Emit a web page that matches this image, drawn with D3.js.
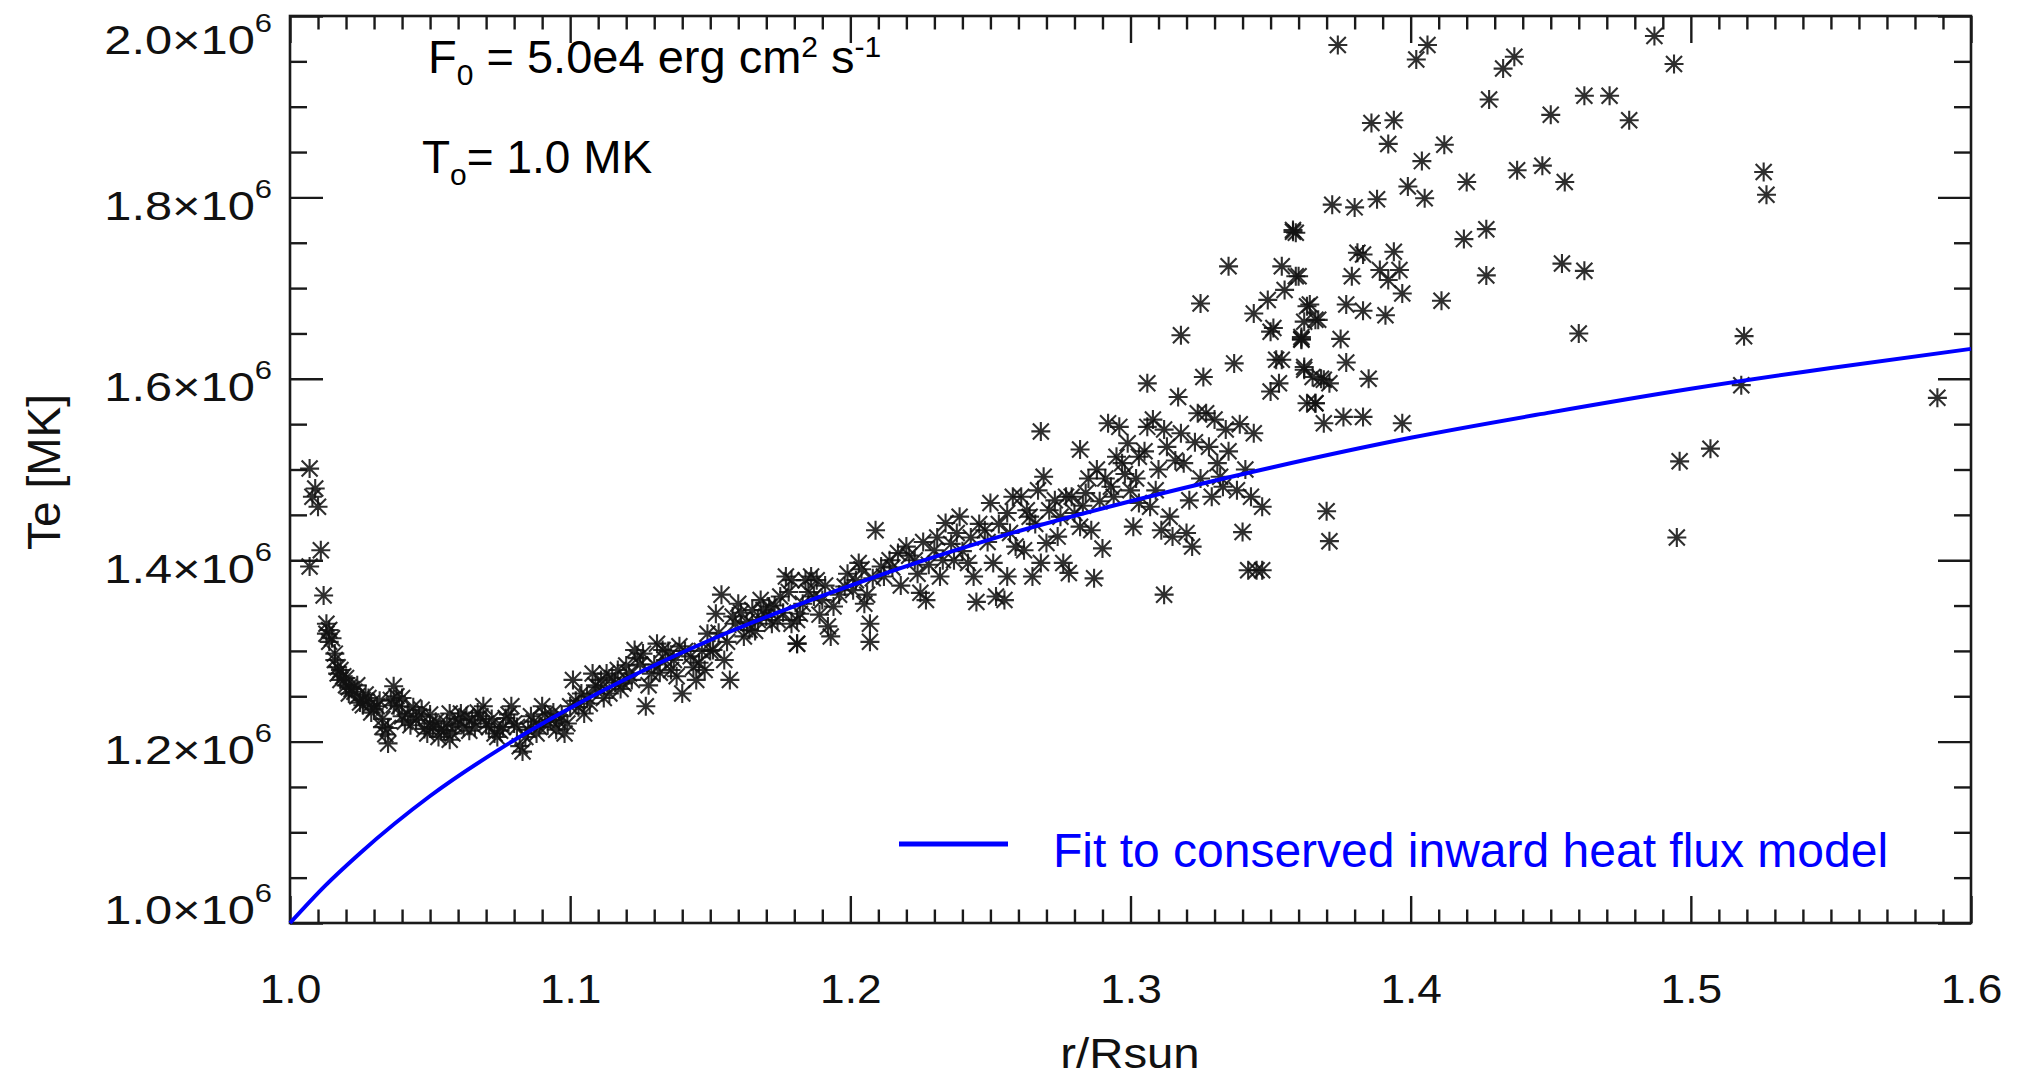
<!DOCTYPE html>
<html><head><meta charset="utf-8">
<script src="https://cdn.jsdelivr.net/npm/d3@7"></script>
<style>
html,body{margin:0;padding:0;background:#fff;}
svg{display:block;}
text{font-family:"Liberation Sans", Arial, Helvetica, sans-serif; white-space:pre;}
</style></head><body>
<svg id="chart" width="2020" height="1081"></svg>
<script>
// Observed electron temperature (units of 10^6 K) versus r/Rsun
const radius = [
1.007,1.009,1.008,1.010,1.011,1.007,1.012,1.013,1.014,1.015,1.016,1.017,1.018,1.019,1.020,1.021,1.022,1.024,1.025,1.026,
1.027,1.029,1.030,1.031,1.033,1.033,1.035,1.036,1.037,1.038,1.039,1.040,1.042,1.044,1.045,1.047,1.049,1.050,1.051,1.053,
1.054,1.056,1.057,1.058,1.060,1.061,1.062,1.064,1.065,1.067,1.069,1.070,1.071,1.073,1.074,1.076,1.077,1.079,1.080,1.081,
1.082,1.083,1.085,1.087,1.088,1.090,1.091,1.093,1.095,1.096,1.098,1.100,1.101,1.102,1.104,1.105,1.107,1.108,1.110,1.111,
1.113,1.114,1.116,1.117,1.119,1.121,1.123,1.125,1.126,1.127,1.129,1.131,1.133,1.134,1.136,1.138,1.139,1.140,1.143,1.145,
1.146,1.148,1.149,1.150,1.151,1.152,1.154,1.155,1.156,1.157,1.158,1.160,1.162,1.164,1.165,1.167,1.169,1.171,1.172,1.174,
1.175,1.177,1.179,1.181,1.182,1.184,
1.179,1.181,1.181,1.186,1.188,1.190,1.192,1.193,1.194,1.198,1.201,1.203,1.205,1.207,1.207,1.209,1.211,1.214,1.217,1.220,
1.223,1.225,1.227,1.230,1.232,1.234,1.237,1.239,1.242,1.244,1.245,1.248,1.250,1.251,1.252,1.255,1.256,1.256,1.258,1.261,
1.262,1.264,1.265,1.267,1.268,1.269,1.268,1.270,1.273,1.274,1.276,1.277,1.278,1.280,1.282,1.282,1.284,1.286,1.287,1.288,
1.290,1.292,1.293,1.295,1.296,1.297,1.299,1.300,1.301,1.303,1.303,1.306,1.306,1.307,1.308,1.309,1.311,1.312,1.312,1.314,
1.315,1.317,1.319,1.320,1.321,1.322,1.324,1.326,1.327,1.328,1.330,1.331,1.332,1.333,1.334,1.337,1.338,1.340,1.342,1.344,
1.345,1.347,1.347,1.350,1.352,1.353,1.362,1.361,1.318,1.350,1.363,
1.374,1.402,1.406,1.433,1.437,1.487,1.494,1.428,1.462,1.471,1.450,1.478,1.386,1.394,1.392,1.412,1.404,1.438,1.447,1.455,
1.399,1.405,1.420,1.388,1.372,1.380,1.358,1.359,1.526,1.527,1.419,1.427,1.381,1.383,1.394,1.389,1.396,1.392,1.397,1.360,
1.379,1.427,1.454,1.462,1.411,1.377,1.383,1.391,1.364,1.362,1.367,1.361,1.375,1.460,1.519,1.377,1.362,1.368,1.371,1.385,
1.366,1.369,1.376,1.383,1.397,1.518,1.496,1.507,1.370,1.371,1.495,1.588,1.325,1.335,1.344,1.349,1.351,1.354,1.355,1.358,
1.359,1.361,1.363,1.366,1.354,1.365,1.369,1.366,
1.013,1.014,1.016,1.017,1.018,1.020,1.021,1.023,1.024,1.026,1.028,1.029,1.032,1.034,1.035,1.037,1.040,1.041,1.043,1.046,
1.048,1.050,1.052,1.055,1.057,1.059,1.063,1.066,1.068,1.072,1.075,1.078,1.084,1.086,1.089,1.092,1.094,1.097,1.099,1.103,
1.106,1.109,1.112,1.115,1.118,1.120,1.122,1.124,1.128,1.130,1.132,1.135,1.137,1.141,1.144,1.147,1.153,1.159,1.161,1.163,
1.166,1.168,1.170,1.173,1.176,1.178,1.183,1.185,1.187,1.189,1.191,1.196,1.199,1.202,1.204,1.206,1.208,1.212,1.215,1.218,
1.221,1.224,1.226,1.228,1.231,1.233,1.236,1.238,1.240,1.243,1.246,1.249,1.253,1.257,1.259,1.263,1.266,1.271,1.275,1.279,
1.283,1.285,1.289,1.291,1.294,1.298,1.302,1.305,1.310,1.313,1.316,1.318,1.323,1.325,1.329,1.335,1.339,1.341,1.343
];
const temperature = [
1.501,1.479,1.470,1.459,1.411,1.393,1.361,1.319,1.323,1.314,1.297,1.275,1.279,1.272,1.262,1.253,1.258,1.250,1.243,1.246,
1.252,1.242,1.236,1.239,1.216,1.225,1.198,1.246,1.261,1.250,1.239,1.228,1.231,1.238,1.224,1.235,1.209,1.220,1.216,1.205,
1.213,1.220,1.231,1.209,1.225,1.231,1.216,1.212,1.224,1.232,1.239,1.220,1.216,1.209,1.205,1.216,1.226,1.239,1.220,1.216,
1.195,1.189,1.213,1.222,1.209,1.239,1.230,1.224,1.213,1.222,1.209,1.239,1.268,1.245,1.253,1.231,1.242,1.275,1.260,1.268,
1.275,1.253,1.265,1.279,1.264,1.275,1.301,1.285,1.297,1.239,1.275,1.308,1.301,1.290,1.279,1.272,1.305,1.253,1.294,1.268,
1.287,1.279,1.319,1.300,1.301,1.341,1.362,1.290,1.310,1.268,1.338,1.352,1.316,1.323,1.345,1.334,1.345,1.349,1.330,1.334,
1.360,1.382,1.330,1.308,1.341,1.378,
1.378,1.334,1.308,1.382,1.378,1.356,1.327,1.316,1.349,1.371,1.367,1.397,1.352,1.330,1.310,1.433,1.393,1.400,1.408,1.415,
1.400,1.364,1.356,1.411,1.382,1.441,1.400,1.448,1.397,1.382,1.354,1.433,1.463,1.397,1.360,1.356,1.452,1.382,1.470,1.470,
1.411,1.448,1.382,1.477,1.397,1.492,1.542,1.419,1.466,1.426,1.397,1.470,1.386,1.452,1.522,1.437,1.474,1.433,1.380,1.500,
1.413,1.551,1.481,1.514,1.547,1.507,1.529,1.477,1.437,1.514,1.463,1.595,1.547,1.459,1.555,1.477,1.433,1.544,1.362,1.448,
1.426,1.580,1.507,1.430,1.466,1.415,1.562,1.602,1.562,1.525,1.555,1.507,1.492,1.481,1.544,1.617,1.477,1.431,1.389,1.540,
1.389,1.459,1.389,1.586,1.621,1.595,1.613,1.646,1.648,1.652,1.573,
1.968,1.952,1.968,1.942,1.955,1.978,1.947,1.908,1.912,1.912,1.891,1.885,1.882,1.885,1.859,1.858,1.840,1.830,1.835,1.817,
1.812,1.799,1.817,1.798,1.792,1.789,1.762,1.761,1.828,1.803,1.754,1.765,1.739,1.737,1.740,1.720,1.720,1.709,1.694,1.713,
1.713,1.714,1.727,1.719,1.686,1.682,1.675,1.670,1.682,1.663,1.665,1.644,1.644,1.650,1.647,1.618,1.610,1.600,1.595,1.600,
1.573,1.551,1.558,1.558,1.551,1.593,1.509,1.523,1.454,1.421,1.425,1.579,1.683,1.724,1.672,1.687,1.656,1.724,1.698,1.764,
1.713,1.643,1.680,1.665,1.621,1.602,1.599,1.573,
1.330,1.310,1.290,1.282,1.268,1.270,1.260,1.255,1.262,1.240,1.248,1.232,1.245,1.208,1.215,1.240,1.248,1.222,1.218,1.228,
1.214,1.230,1.222,1.212,1.202,1.218,1.228,1.216,1.228,1.225,1.212,1.230,1.205,1.228,1.216,1.218,1.232,1.228,1.220,1.238,
1.250,1.262,1.248,1.270,1.258,1.284,1.268,1.292,1.262,1.285,1.276,1.300,1.290,1.300,1.282,1.300,1.320,1.330,1.342,1.332,
1.322,1.356,1.338,1.350,1.342,1.365,1.352,1.365,1.360,1.340,1.372,1.362,1.385,1.378,1.390,1.362,1.380,1.382,1.392,1.372,
1.405,1.385,1.420,1.395,1.425,1.400,1.418,1.430,1.410,1.425,1.440,1.420,1.440,1.430,1.415,1.455,1.440,1.455,1.448,1.470,
1.460,1.490,1.465,1.490,1.470,1.495,1.490,1.520,1.500,1.525,1.510,1.540,1.530,1.490,1.470,1.520,1.550,1.500,1.470
];
// Fit curve
const fitRadius = [1.000,1.0125,1.025,1.050,1.075,1.100,1.150,1.200,1.250,1.300,1.350,1.400,1.450,1.500,1.550,1.600];
const fitTemperature = [1.000,1.041,1.077,1.140,1.192,1.237,1.312,1.372,1.423,1.465,1.502,1.535,1.563,1.589,1.612,1.633];
const xMajorTicks = [1.0,1.1,1.2,1.3,1.4,1.5,1.6];
const yMajorTicks = [1.0,1.2,1.4,1.6,1.8,2.0];
const yTickMantissa = ["1.0","1.2","1.4","1.6","1.8","2.0"];
const legendLabel = "Fit to conserved inward heat flux model";

const svg = d3.select("#chart");
const L = 290, R = 1971, T = 16, B = 923;
const x = d3.scaleLinear().domain([1.0, 1.6]).range([L, R]);
const y = d3.scaleLinear().domain([1.0, 2.0]).range([B, T]);

const xMinor = d3.range(1.0, 1.6001, 0.01).map(v => +v.toFixed(2)).filter(v => !xMajorTicks.includes(v));
const yMinor = d3.range(1.0, 2.0001, 0.05).map(v => +v.toFixed(2)).filter(v => !yMajorTicks.includes(v));

const axisColor = "#1a1a1a";
function styleAxis(g) {
  g.select(".domain").remove();
  g.selectAll(".tick line").attr("stroke", axisColor).attr("stroke-width", 2.4);
}

// bottom
const gB = svg.append("g").attr("transform", `translate(0,${B})`);
gB.append("g").call(d3.axisBottom(x).tickValues(xMinor).tickSize(-13.5).tickFormat("")).call(styleAxis);
const gBM = gB.append("g").call(d3.axisBottom(x).tickValues(xMajorTicks).tickSize(-27).tickFormat(d3.format(".1f"))).call(styleAxis);
gBM.selectAll(".tick text").attr("y", 80).attr("dy", 0).attr("fill", "#111")
  .attr("font-size", 41).attr("transform", "scale(1.08,1)");
// top
const gT = svg.append("g").attr("transform", `translate(0,${T})`);
gT.append("g").call(d3.axisTop(x).tickValues(xMinor).tickSize(-13.5).tickFormat("")).call(styleAxis);
gT.append("g").call(d3.axisTop(x).tickValues(xMajorTicks).tickSize(-27).tickFormat("")).call(styleAxis);
// left
const gL = svg.append("g").attr("transform", `translate(${L},0)`);
gL.append("g").call(d3.axisLeft(y).tickValues(yMinor).tickSize(-17).tickFormat("")).call(styleAxis);
const gLM = gL.append("g").call(d3.axisLeft(y).tickValues(yMajorTicks).tickSize(-33)
  .tickFormat((d, i) => yTickMantissa[i])).call(styleAxis);
gLM.selectAll(".tick text").each(function(d, i) {
  const t = d3.select(this);
  const m = yTickMantissa[i];
  const off = d === 1.0 ? 0 : (d === 2.0 ? 37 : 22);
  t.text(null).attr("x", 0).attr("y", 0).attr("dy", 0).attr("fill", "#111")
    .attr("font-size", 41).attr("text-anchor", "end")
    .attr("transform", `translate(-18,${off}) scale(1.19,1)`);
  t.append("tspan").text(m + "\u00d710");
  t.append("tspan").attr("font-size", 26).attr("dy", -22).text("6");
});
// right
const gR = svg.append("g").attr("transform", `translate(${R},0)`);
gR.append("g").call(d3.axisRight(y).tickValues(yMinor).tickSize(-17).tickFormat("")).call(styleAxis);
gR.append("g").call(d3.axisRight(y).tickValues(yMajorTicks).tickSize(-33).tickFormat("")).call(styleAxis);

// frame
svg.append("rect").attr("x", L).attr("y", T).attr("width", R - L).attr("height", B - T)
  .attr("fill", "none").attr("stroke", axisColor).attr("stroke-width", 2.6);

// axis titles
svg.append("text").attr("transform", "translate(60,472) rotate(-90)").attr("text-anchor", "middle")
  .attr("font-size", 46).attr("fill", "#111").text("Te [MK]");
svg.append("text").attr("transform", "translate(1130,1068) scale(1.1,1)").attr("text-anchor", "middle")
  .attr("font-size", 43).attr("fill", "#111").text("r/Rsun");

// data stars
const points = radius.map((r, i) => ({r, t: temperature[i]}));
const star = "M-9.5,0H9.5M0,-9.5V9.5M-8,-8L8,8M-8,8L8,-8";
svg.append("g").selectAll("path").data(points).join("path")
  .attr("d", star)
  .attr("transform", d => `translate(${x(d.r)},${y(d.t)})`)
  .attr("fill", "none").attr("stroke", "#111").attr("stroke-width", 2.1).attr("stroke-opacity", 0.88);

// fit curve
const fit = fitRadius.map((r, i) => ({r, t: fitTemperature[i]}));
svg.append("path").datum(fit)
  .attr("d", d3.line().x(d => x(d.r)).y(d => y(d.t)).curve(d3.curveMonotoneX))
  .attr("fill", "none").attr("stroke", "#0000ff").attr("stroke-width", 4);

// annotations
const a1 = svg.append("text").attr("x", 428).attr("y", 73).attr("font-size", 47).attr("fill", "#000");
a1.append("tspan").text("F");
a1.append("tspan").attr("font-size", 30).attr("dy", 12).text("0");
a1.append("tspan").attr("dy", -12).text(" = 5.0e4 erg cm");
a1.append("tspan").attr("font-size", 30).attr("dy", -16).text("2");
a1.append("tspan").attr("dy", 16).text(" s");
a1.append("tspan").attr("font-size", 30).attr("dy", -16).text("-1");

const a2 = svg.append("text").attr("x", 422).attr("y", 173).attr("font-size", 46).attr("fill", "#000");
a2.append("tspan").text("T");
a2.append("tspan").attr("font-size", 30).attr("dy", 12).text("o");
a2.append("tspan").attr("dy", -12).text("= 1.0 MK");

// legend
svg.append("line").attr("x1", 899).attr("x2", 1008).attr("y1", 844).attr("y2", 844)
  .attr("stroke", "#0000ff").attr("stroke-width", 5);
svg.append("text").attr("x", 1053).attr("y", 867).attr("font-size", 48).attr("fill", "#0000ff").text(legendLabel);
</script>
</body></html>
